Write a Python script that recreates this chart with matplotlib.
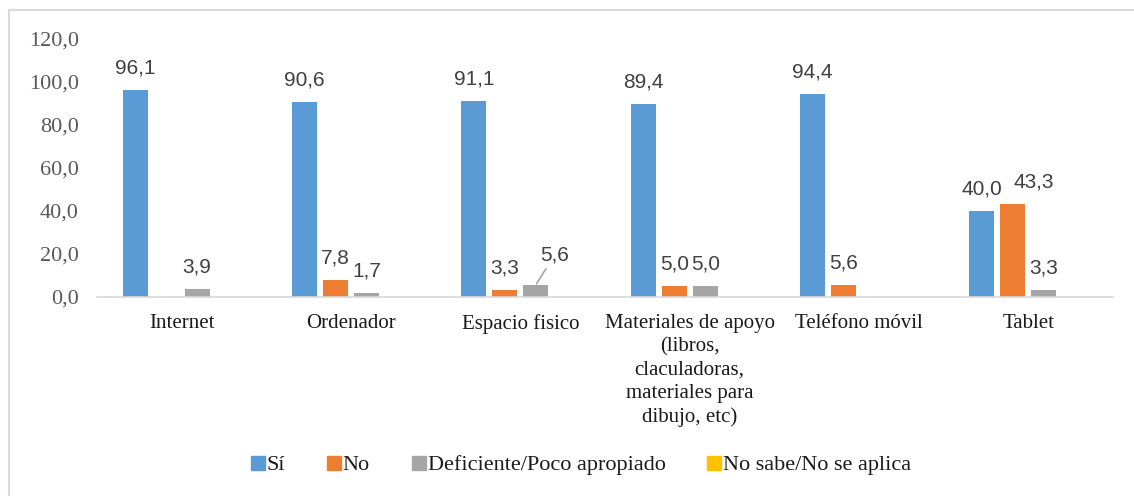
import numpy as np
import matplotlib.pyplot as plt
from matplotlib.lines import Line2D

# Datos
categorias = ["Internet", "Ordenador", "Espacio fisico",
              "Materiales de apoyo\n(libros,\nclaculadoras,\nmateriales para\ndibujo, etc)",
              "Teléfono móvil", "Tablet"]
si = [96.1, 90.6, 91.1, 89.4, 94.4, 40.0]
no = [0.0, 7.8, 3.3, 5.0, 5.6, 43.3]
deficiente = [3.9, 1.7, 5.6, 5.0, 0.0, 3.3]
no_sabe = [0.0, 0.0, 0.0, 0.0, 0.0, 0.0]

series = ["Sí", "No", "Deficiente/Poco apropiado", "No sabe/No se aplica"]
colores = ["#5B9BD5", "#ED7D31", "#A5A5A5", "#FFC000"]

W, H = 1134, 496
fig = plt.figure(figsize=(W / 100, H / 100), dpi=100)
ax = fig.add_axes([97 / W, 1 - 297 / H, (1113 - 97) / W, (297 - 38.5) / H])

x = np.arange(len(categorias))
paso = 0.183
ancho = 0.148
serif = "Liberation Serif"
sans = "Liberation Sans"
tam_etiqueta = 15

for i, (vals, col, nombre) in enumerate(zip([si, no, deficiente, no_sabe], colores, series)):
    pos = x + (i - 1.5) * paso
    ax.bar(pos, vals, width=ancho, color=col, label=nombre)
    for j, v in enumerate(vals):
        if v == 0:
            continue
        txt = f"{v:.1f}".replace(".", ",")
        if nombre.startswith("Deficiente") and j == 2:
            # etiqueta desplazada con línea guía
            ax.annotate(txt, xy=(pos[j], v), xytext=(pos[j] + 0.11, 15),
                        ha="center", va="bottom", fontsize=tam_etiqueta, family=sans,
                        color="#404040",
                        arrowprops=dict(arrowstyle="-", color="#A5A5A5", lw=1.2,
                                        shrinkA=1, shrinkB=1))
            continue
        dx = 0
        if nombre == "No" and j == 5:
            dx = 15  # separar de la etiqueta azul
        ax.annotate(txt, xy=(pos[j], v), xytext=(dx, 9), textcoords="offset points",
                    ha="center", va="bottom", fontsize=tam_etiqueta, family=sans,
                    color="#404040")

ax.set_xlim(-0.5, len(categorias) - 0.5)
ax.set_ylim(0, 120)
ax.set_yticks(np.arange(0, 121, 20))
ax.set_yticklabels([f"{v:.1f}".replace(".", ",") for v in np.arange(0, 121, 20)],
                   family=serif, fontsize=16, color="#595959")
ax.set_xticks(x)
ax.set_xticklabels(categorias, family=serif, fontsize=15, color="#1a1a1a", linespacing=1.3)
ax.tick_params(axis="both", length=0)
ax.tick_params(axis="y", pad=13)
ax.tick_params(axis="x", pad=12)

for s in ["top", "right", "left"]:
    ax.spines[s].set_visible(False)
ax.spines["bottom"].set_color("#D9D9D9")
ax.spines["bottom"].set_linewidth(1.2)

# Leyenda
handles = [Line2D([], [], marker="s", linestyle="none", markersize=10,
                  markerfacecolor=c, markeredgecolor=c) for c in colores]
fig.legend(handles, series, loc="center", bbox_to_anchor=(580 / W, 1 - 465 / H),
           ncol=4, frameon=False, prop={"family": serif, "size": 16},
           handletextpad=0.0, columnspacing=1.8, handlelength=0.8,
           labelcolor="#1a1a1a")

# Borde del gráfico
borde = "#D9D9D9"
fig.add_artist(Line2D([9 / W, 9 / W], [0, 1 - 10 / H], color=borde, lw=1.5,
                      transform=fig.transFigure))
fig.add_artist(Line2D([9 / W, 1], [1 - 10 / H, 1 - 10 / H], color=borde, lw=1.5,
                      transform=fig.transFigure))

fig.savefig("out.png", dpi=100)
